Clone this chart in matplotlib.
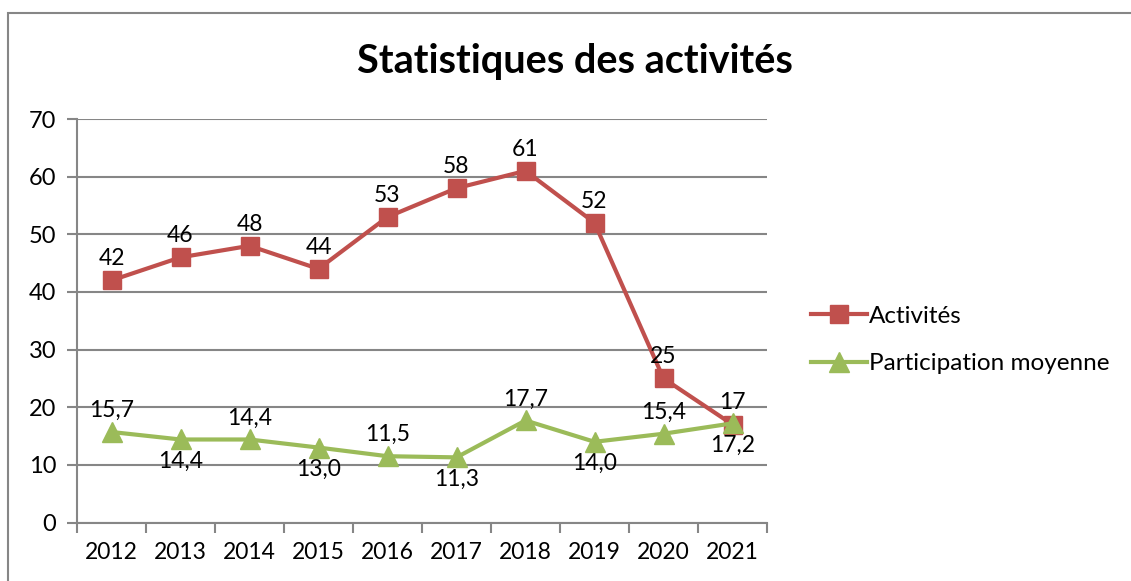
import numpy as np
import matplotlib
matplotlib.use("Agg")
import matplotlib.pyplot as plt
from matplotlib.patches import Rectangle

years = ["2012", "2013", "2014", "2015", "2016", "2017", "2018", "2019", "2020", "2021"]
activites = [42, 46, 48, 44, 53, 58, 61, 52, 25, 17]
participation = [15.7, 14.4, 14.4, 13.0, 11.5, 11.3, 17.7, 14.0, 15.4, 17.2]
# label above (+1) or below (-1) for participation
part_side = [1, -1, 1, -1, 1, -1, 1, -1, 1, -1]

RED = "#C0504D"
GREEN = "#9BBB59"
GRID = "#868686"
FS = 16.5

plt.rcParams["font.family"] = ["Lato", "DejaVu Sans"]

fig = plt.figure(figsize=(11.31, 5.81), dpi=100)
ax = fig.add_axes([77 / 1131, 1 - 522.5 / 581, 690 / 1131, 403.5 / 581])

# figure border (chart area)
fig.patches.append(Rectangle((8 / 1131, -0.05), 1.2, 1 - 13 / 581 + 0.05,
                             transform=fig.transFigure, fill=False,
                             edgecolor=GRID, linewidth=1.5))

x = np.arange(len(years))
ax.plot(x, activites, color=RED, lw=3, marker="s", markersize=13,
        label="Activités", zorder=3)
ax.plot(x, participation, color=GREEN, lw=3, marker="^", markersize=14,
        label="Participation moyenne", zorder=4)

for xi, v in zip(x, activites):
    ax.annotate(str(v), (xi, v), xytext=(0, 8), textcoords="offset points",
                ha="center", va="bottom", fontsize=FS)
for xi, v, s in zip(x, participation, part_side):
    txt = f"{v:.1f}".replace(".", ",")
    ax.annotate(txt, (xi, v), xytext=(0, 8 if s > 0 else -8),
                textcoords="offset points", ha="center",
                va="bottom" if s > 0 else "top", fontsize=FS)

ax.set_xlim(-0.5, len(years) - 0.5)
ax.set_ylim(0, 70)
ax.set_yticks(range(0, 71, 10))
ax.set_xticks(x)
ax.set_xticklabels(years)
ax.set_xticks(np.arange(-0.5, len(years)), minor=True)
ax.tick_params(axis="x", which="major", length=0, pad=14, labelsize=FS)
ax.tick_params(axis="x", which="minor", length=7, width=1.5, color=GRID)
ax.tick_params(axis="y", length=7, width=1.5, color=GRID, pad=8, labelsize=17)
ax.grid(axis="y", color=GRID, lw=1.5)
ax.set_axisbelow(True)
for sp in ["top", "right"]:
    ax.spines[sp].set_visible(False)
for sp in ["left", "bottom"]:
    ax.spines[sp].set_color(GRID)
    ax.spines[sp].set_linewidth(1.5)

fig.text(575 / 1131, 1 - 62 / 581, "Statistiques des activités",
         ha="center", va="center", fontsize=28.5, fontweight="bold")

fig.legend(loc="center left", bbox_to_anchor=(789 / 1131, 1 - 340 / 581),
           frameon=False, fontsize=17.5, handlelength=2.3, handletextpad=0.1,
           labelspacing=1.1)

fig.savefig("out.png", dpi=100)
